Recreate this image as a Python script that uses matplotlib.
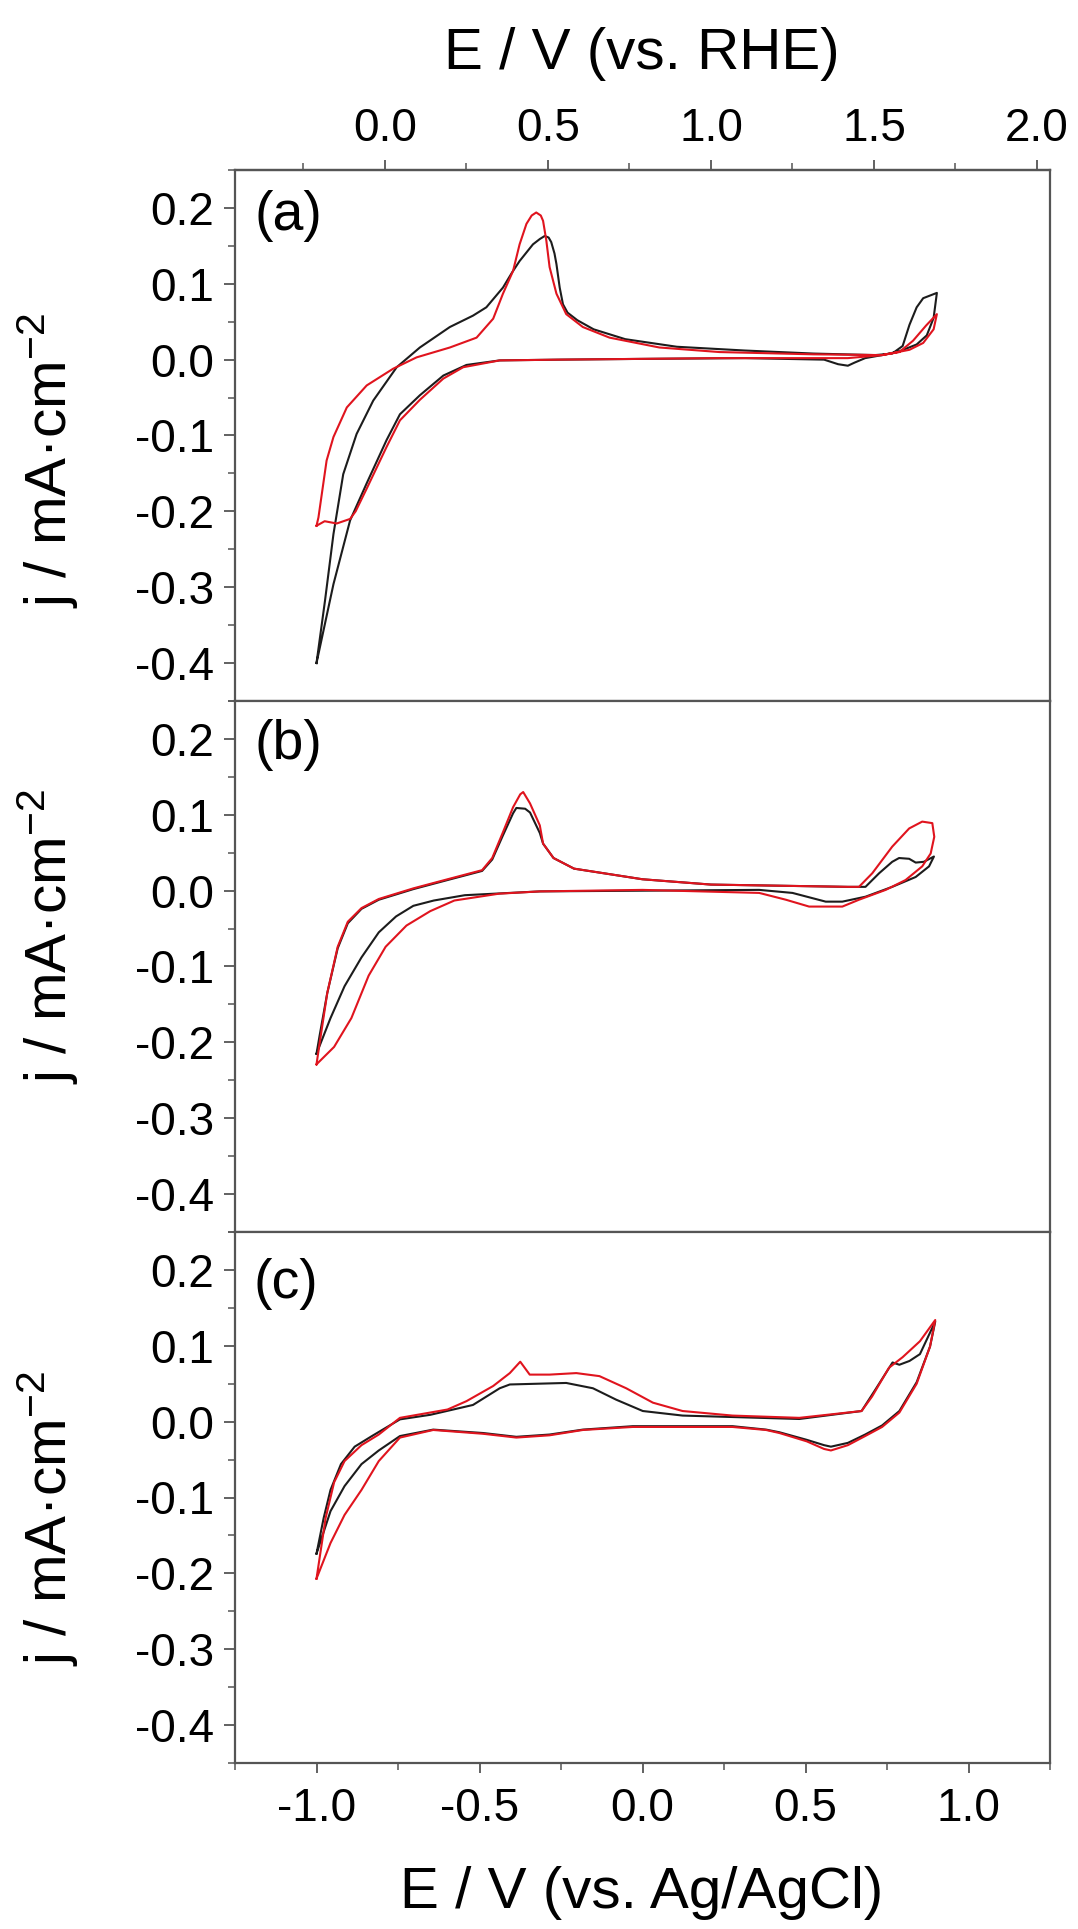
import matplotlib
matplotlib.use('Agg')
import matplotlib.pyplot as plt
from matplotlib.ticker import MultipleLocator, FormatStrFormatter

plt.rcParams['font.family'] = ['Liberation Sans', 'DejaVu Sans']
plt.rcParams['axes.unicode_minus'] = False
plt.rcParams['mathtext.fontset'] = 'custom'
plt.rcParams['mathtext.rm'] = 'Liberation Sans'
plt.rcParams['mathtext.it'] = 'Liberation Sans:italic'

# CV loops: E vs Ag/AgCl (V), j (mA cm-2); anodic sweep from -1.0 V, then back
# (a) black
E_a_black = [-1.000, -0.974, -0.948, -0.918, -0.877, -0.826, -0.754, -0.683, -0.591, -0.520,
             -0.479, -0.428, -0.400, -0.377, -0.336, -0.315, -0.300, -0.288, -0.280, -0.270,
             -0.264, -0.254, -0.244, -0.230, -0.200, -0.150, -0.053, 0.105, 0.315, 0.525,
             0.714, 0.766, 0.798, 0.819, 0.841, 0.861, 0.903,
             0.893, 0.872, 0.841, 0.788, 0.735, 0.683, 0.650, 0.630, 0.600, 0.557, 0.315,
             0.000, -0.254, -0.438, -0.540, -0.611, -0.683, -0.744, -0.785, -0.846, -0.897,
             -0.948, -1.000]
j_a_black = [-0.400, -0.318, -0.230, -0.151, -0.098, -0.054, -0.010, 0.016, 0.043, 0.058,
             0.069, 0.095, 0.115, 0.130, 0.152, 0.159, 0.163, 0.161, 0.155, 0.140,
             0.126, 0.095, 0.073, 0.062, 0.052, 0.040, 0.027, 0.017, 0.012, 0.008,
             0.006, 0.008, 0.018, 0.046, 0.069, 0.081, 0.088,
             0.055, 0.032, 0.020, 0.011, 0.006, 0.002, -0.004, -0.008, -0.006, 0.000, 0.002,
             0.001, 0.000, -0.001, -0.007, -0.021, -0.047, -0.072, -0.106, -0.163, -0.212,
             -0.296, -0.400]
# (a) red
E_a_red = [-1.000, -0.994, -0.969, -0.948, -0.907, -0.846, -0.765, -0.693, -0.591, -0.509,
           -0.458, -0.428, -0.397, -0.377, -0.356, -0.340, -0.326, -0.312, -0.305, -0.295,
           -0.285, -0.264, -0.234, -0.183, -0.101, 0.052, 0.236, 0.525, 0.735, 0.788,
           0.830, 0.870, 0.903,
           0.893, 0.861, 0.819, 0.735, 0.630, 0.236, -0.254, -0.438, -0.550, -0.611,
           -0.683, -0.744, -0.785, -0.846, -0.880, -0.897, -0.938, -0.975, -1.000]
j_a_red = [-0.219, -0.208, -0.133, -0.102, -0.063, -0.034, -0.012, 0.003, 0.016, 0.029,
           0.054, 0.087, 0.117, 0.152, 0.179, 0.190, 0.194, 0.190, 0.183, 0.157,
           0.122, 0.087, 0.060, 0.043, 0.029, 0.016, 0.010, 0.007, 0.006, 0.010,
           0.025, 0.045, 0.060,
           0.040, 0.022, 0.013, 0.006, 0.002, 0.002, 0.000, -0.001, -0.010, -0.025,
           -0.053, -0.080, -0.115, -0.170, -0.200, -0.210, -0.216, -0.213, -0.219]

# (b) black
E_b_black = [-1.000, -0.990, -0.967, -0.935, -0.904, -0.862, -0.809, -0.703, -0.598, -0.492,
             -0.461, -0.429, -0.397, -0.387, -0.360, -0.345, -0.315, -0.305, -0.273, -0.210,
             0.000, 0.210, 0.630, 0.684, 0.726, 0.766, 0.787, 0.818, 0.838, 0.863, 0.894,
             0.879, 0.838, 0.766, 0.684, 0.613, 0.562, 0.460, 0.358,
             -0.315, -0.545, -0.640, -0.703, -0.756, -0.809, -0.862, -0.914, -0.957, -1.000]
j_b_black = [-0.215, -0.190, -0.135, -0.076, -0.043, -0.024, -0.012, 0.002, 0.014, 0.026,
             0.041, 0.072, 0.102, 0.109, 0.108, 0.103, 0.076, 0.062, 0.043, 0.029,
             0.015, 0.008, 0.005, 0.005, 0.023, 0.038, 0.043, 0.042, 0.037, 0.038, 0.045,
             0.032, 0.018, 0.005, -0.008, -0.0145, -0.0145, -0.003, 0.001,
             -0.001, -0.006, -0.013, -0.020, -0.034, -0.055, -0.088, -0.126, -0.168, -0.215]
# (b) red
E_b_red = [-1.000, -0.990, -0.967, -0.935, -0.904, -0.862, -0.809, -0.703, -0.598, -0.492,
           -0.461, -0.429, -0.397, -0.375, -0.366, -0.345, -0.315, -0.305, -0.273, -0.210,
           0.000, 0.210, 0.630, 0.664, 0.705, 0.766, 0.818, 0.858, 0.889, 0.895,
           0.884, 0.858, 0.807, 0.746, 0.664, 0.613, 0.511, 0.440, 0.358,
           0.000, -0.315, -0.440, -0.577, -0.651, -0.724, -0.788, -0.840, -0.893,
           -0.946, -1.000]
j_b_red = [-0.229, -0.200, -0.135, -0.074, -0.041, -0.023, -0.011, 0.003, 0.015, 0.027,
           0.043, 0.076, 0.110, 0.127, 0.130, 0.115, 0.086, 0.062, 0.043, 0.029,
           0.015, 0.008, 0.005, 0.005, 0.023, 0.058, 0.082, 0.091, 0.089, 0.071,
           0.049, 0.032, 0.014, 0.001, -0.012, -0.021, -0.021, -0.012, -0.003,
           0.001, -0.001, -0.004, -0.013, -0.027, -0.046, -0.074, -0.112, -0.168,
           -0.206, -0.229]

# (c) black
E_c_black = [-1.000, -0.978, -0.957, -0.925, -0.883, -0.830, -0.744, -0.651, -0.520, -0.438,
             -0.407, -0.234, -0.152, -0.081, 0.001, 0.123, 0.481,
             0.672, 0.714, 0.767, 0.788, 0.819, 0.851, 0.898,
             0.882, 0.841, 0.788, 0.735, 0.683, 0.630, 0.578, 0.557, 0.504, 0.420, 0.379,
             0.276, -0.030, -0.183, -0.285, -0.387, -0.489, -0.642, -0.744, -0.809,
             -0.862, -0.914, -0.957, -1.000]
j_c_black = [-0.174, -0.127, -0.090, -0.056, -0.033, -0.019, 0.003, 0.009, 0.022, 0.044,
             0.049, 0.051, 0.044, 0.029, 0.014, 0.008, 0.0035,
             0.014, 0.042, 0.078, 0.075, 0.080, 0.089, 0.132,
             0.099, 0.052, 0.014, -0.005, -0.017, -0.028, -0.033, -0.031, -0.024, -0.014, -0.0105,
             -0.006, -0.006, -0.0105, -0.017, -0.020, -0.015, -0.0105, -0.019, -0.038,
             -0.056, -0.085, -0.118, -0.174]
# (c) red
E_c_red = [-1.000, -0.972, -0.946, -0.914, -0.862, -0.809, -0.744, -0.598, -0.540, -0.458,
           -0.407, -0.375, -0.346, -0.285, -0.203, -0.132, -0.050, 0.032, 0.123, 0.276,
           0.481, 0.672, 0.704, 0.756, 0.798, 0.851, 0.898,
           0.882, 0.841, 0.788, 0.735, 0.683, 0.630, 0.578, 0.557, 0.504, 0.420, 0.379,
           0.276, -0.030, -0.183, -0.285, -0.387, -0.489, -0.642, -0.744, -0.809,
           -0.862, -0.914, -0.957, -1.000]
j_c_red = [-0.207, -0.127, -0.080, -0.052, -0.031, -0.017, 0.005, 0.016, 0.027, 0.047,
           0.064, 0.079, 0.062, 0.062, 0.064, 0.060, 0.044, 0.025, 0.014, 0.008,
           0.005, 0.014, 0.033, 0.071, 0.085, 0.106, 0.134,
           0.099, 0.050, 0.012, -0.007, -0.019, -0.031, -0.038, -0.036, -0.026, -0.015, -0.011,
           -0.007, -0.007, -0.011, -0.018, -0.021, -0.016, -0.011, -0.021, -0.052,
           -0.090, -0.123, -0.160, -0.207]

panel_tags = ['(a)', '(b)', '(c)']
rhe_shift = 0.79  # E(RHE) = E(Ag/AgCl) + 0.79 V

W, H = 1078, 1929
fig = plt.figure(figsize=(W / 100, H / 100), dpi=100)

spine_col = '#555555'
black = '#1c1c1c'
red = '#e0141e'
ax_left, ax_right = 235, 1050
tops = [170, 701, 1232]
ph = 531

data = [(E_a_black, j_a_black, E_a_red, j_a_red),
        (E_b_black, j_b_black, E_b_red, j_b_red),
        (E_c_black, j_c_black, E_c_red, j_c_red)]
ylab_y = [461, 937, 1519]
tag_xy = [(288, 216), (288, 745), (286, 1284)]

axes = []
for i, (eb, jb, er, jr) in enumerate(data):
    top = tops[i]
    ax = fig.add_axes([ax_left / W, 1 - (top + ph) / H, (ax_right - ax_left) / W, ph / H])
    ax.plot(eb, jb, color=black, lw=1.5)
    ax.plot(er, jr, color=red, lw=1.5)
    ax.set_xlim(-1.25, 1.25)
    ax.set_ylim(-0.45, 0.25)
    ax.yaxis.set_major_locator(MultipleLocator(0.1))
    ax.yaxis.set_minor_locator(MultipleLocator(0.05))
    ax.yaxis.set_major_formatter(FormatStrFormatter('%.1f'))
    ax.xaxis.set_major_locator(MultipleLocator(0.5))
    ax.xaxis.set_minor_locator(MultipleLocator(0.25))
    ax.xaxis.set_major_formatter(FormatStrFormatter('%.1f'))
    for s in ax.spines.values():
        s.set_color(spine_col)
        s.set_linewidth(1.6)
    ax.tick_params(axis='y', which='major', direction='out', length=8, width=1.3,
                   color=spine_col, pad=7, labelsize=33)
    ax.tick_params(axis='y', which='minor', direction='out', length=5, width=1.1,
                   color=spine_col)
    if i < 2:
        ax.tick_params(axis='x', which='both', bottom=False, labelbottom=False)
    else:
        ax.tick_params(axis='x', which='major', direction='out', length=7, width=1.3,
                       color=spine_col, pad=10, labelsize=33)
        ax.tick_params(axis='x', which='minor', direction='out', length=5, width=1.1,
                       color=spine_col)
    fig.text(48 / W, 1 - ylab_y[i] / H, 'j / mA\u00b7cm$^{-2}$', rotation=90,
             ha='center', va='center', fontsize=42)
    fig.text(tag_xy[i][0] / W, 1 - tag_xy[i][1] / H, panel_tags[i],
             ha='center', va='center', fontsize=40)
    axes.append(ax)

# RHE scale on top of the first panel
top_ax = axes[0].secondary_xaxis('top', functions=(lambda e: e + rhe_shift,
                                                   lambda r: r - rhe_shift))
top_ax.xaxis.set_major_locator(MultipleLocator(0.5))
top_ax.xaxis.set_minor_locator(MultipleLocator(0.25))
top_ax.xaxis.set_major_formatter(FormatStrFormatter('%.1f'))
top_ax.spines['top'].set_color(spine_col)
top_ax.spines['top'].set_linewidth(1.6)
top_ax.tick_params(axis='x', which='major', direction='out', length=7, width=1.3,
                   color=spine_col, pad=7, labelsize=33)
top_ax.tick_params(axis='x', which='minor', direction='out', length=5, width=1.1,
                   color=spine_col)

fig.text(642 / W, 1 - 54 / H, 'E / V (vs. RHE)', ha='center', va='center', fontsize=42)
fig.text(642 / W, 1 - 1893 / H, 'E / V (vs. Ag/AgCl)', ha='center', va='center', fontsize=42)

fig.savefig('out.png', dpi=100)
